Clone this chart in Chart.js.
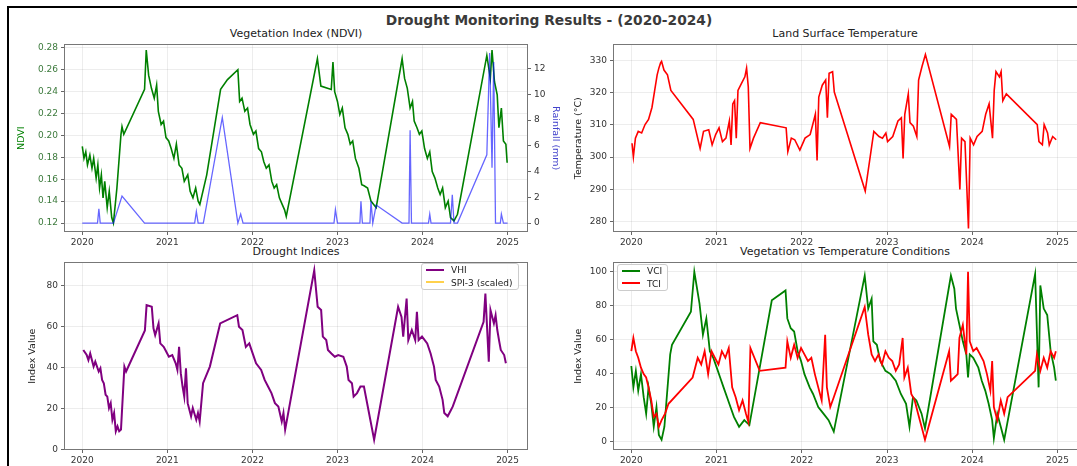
<!DOCTYPE html>
<html>
<head>
<meta charset="utf-8">
<script src="https://cdn.jsdelivr.net/npm/chart.js@4.4.1/dist/chart.umd.min.js"></script>
<style>
body { margin: 0; background: #fff; width: 1077px; height: 466px; overflow: hidden; position: relative; font-family: "DejaVu Sans", sans-serif; }
canvas { position: absolute; }
.bar { position: absolute; background: #000; }
.sup { position: absolute; left: 549px; top: 12px; transform: translateX(-50%); white-space: nowrap; font-size: 13.8px; line-height: 17px; font-weight: bold; color: #3a3a3a; }
.t { position: absolute; transform: translateX(-50%); white-space: nowrap; font-size: 11px; line-height: 13px; color: #222; }
.leg { position: absolute; border: 1px solid #ccc; border-radius: 3px; background: rgba(255,255,255,0.85); padding: 0 5px 0 4px; font-size: 9px; color: #222; }
.leg div { height: 12.5px; line-height: 12.5px; white-space: nowrap; }
.leg span { display: inline-block; width: 18px; height: 2px; margin-right: 7px; vertical-align: middle; position: relative; top: -1px; }
</style>
</head>
<body>
<div class="bar" style="left:7px;top:6px;width:1070px;height:2px"></div>
<div class="bar" style="left:7px;top:6px;width:2px;height:460px"></div>

<div class="sup">Drought Monitoring Results - (2020-2024)</div>
<div class="t" style="left:296px;top:27px">Vegetation Index (NDVI)</div>
<div class="t" style="left:845px;top:27px">Land Surface Temperature</div>
<div class="t" style="left:296px;top:245px">Drought Indices</div>
<div class="t" style="left:845px;top:245px">Vegetation vs Temperature Conditions</div>

<canvas id="cNdvi" width="572" height="216" style="left:8px;top:36px"></canvas>
<canvas id="cLst" width="520" height="216" style="left:570px;top:36px"></canvas>
<canvas id="cVhi" width="572" height="216" style="left:8px;top:254px"></canvas>
<canvas id="cVci" width="520" height="216" style="left:570px;top:254px"></canvas>

<div class="leg" style="left:421px;top:263px">
  <div><span style="background:#800080"></span>VHI</div>
  <div><span style="background:rgba(255,190,0,0.7)"></span>SPI-3 (scaled)</div>
</div>
<div class="leg" style="left:617px;top:264px">
  <div><span style="background:#008000"></span>VCI</div>
  <div><span style="background:#ff0000"></span>TCI</div>
</div>

<script>
// tick values
const yearTicks = [2020, 2021, 2022, 2023, 2024, 2025];
const ndviTicks = [0.12, 0.14, 0.16, 0.18, 0.20, 0.22, 0.24, 0.26, 0.28];
const rainTicks = [0, 2, 4, 6, 8, 10, 12];
const lstTicks = [280, 290, 300, 310, 320, 330];
const vhiTicks = [0, 20, 40, 60, 80];
const vciTicks = [0, 20, 40, 60, 80, 100];

// [decimal year, value]
const ndvi = [
  [2020.000,0.190],[2020.020,0.179],[2020.041,0.185],[2020.061,0.173],[2020.089,0.182],[2020.114,0.170],[2020.134,0.179],
  [2020.163,0.161],[2020.183,0.173],[2020.203,0.152],[2020.224,0.164],[2020.244,0.143],[2020.264,0.158],[2020.293,0.134],
  [2020.317,0.149],[2020.346,0.125],[2020.366,0.120],[2020.407,0.152],[2020.455,0.201],[2020.467,0.208],[2020.488,0.201],
  [2020.732,0.242],[2020.752,0.278],[2020.780,0.255],[2020.813,0.243],[2020.846,0.234],[2020.874,0.246],[2020.894,0.222],
  [2020.927,0.210],[2020.955,0.213],[2020.984,0.198],[2021.016,0.195],[2021.045,0.188],[2021.077,0.179],[2021.106,0.192],
  [2021.138,0.173],[2021.171,0.170],[2021.199,0.158],[2021.240,0.164],[2021.268,0.149],[2021.301,0.143],[2021.333,0.152],
  [2021.362,0.140],[2021.382,0.137],[2021.463,0.164],[2021.626,0.242],[2021.707,0.251],[2021.829,0.260],[2021.850,0.231],
  [2021.878,0.234],[2021.911,0.222],[2021.943,0.225],[2021.972,0.210],[2022.012,0.201],[2022.041,0.204],[2022.073,0.188],
  [2022.106,0.185],[2022.134,0.176],[2022.163,0.170],[2022.195,0.173],[2022.228,0.158],[2022.256,0.152],[2022.285,0.155],
  [2022.317,0.143],[2022.350,0.137],[2022.378,0.132],[2022.398,0.126],[2022.764,0.270],[2022.805,0.245],[2022.927,0.242],
  [2022.947,0.267],[2022.967,0.240],[2023.000,0.231],[2023.028,0.219],[2023.057,0.225],[2023.089,0.207],[2023.122,0.201],
  [2023.150,0.192],[2023.179,0.195],[2023.211,0.179],[2023.252,0.170],[2023.285,0.155],[2023.313,0.154],[2023.354,0.152],
  [2023.394,0.140],[2023.455,0.134],[2023.760,0.270],[2023.789,0.252],[2023.821,0.243],[2023.854,0.225],[2023.882,0.231],
  [2023.902,0.213],[2023.935,0.207],[2023.963,0.201],[2023.992,0.204],[2024.024,0.188],[2024.057,0.179],[2024.085,0.185],
  [2024.114,0.167],[2024.146,0.161],[2024.179,0.152],[2024.207,0.146],[2024.236,0.152],[2024.268,0.134],[2024.301,0.140],
  [2024.329,0.125],[2024.370,0.122],[2024.411,0.128],[2024.756,0.273],[2024.797,0.252],[2024.817,0.278],[2024.846,0.249],
  [2024.878,0.237],[2024.898,0.207],[2024.927,0.225],[2024.951,0.195],[2024.980,0.192],[2024.995,0.175]
];
const rainfall = [
  [2020.000,0],[2020.179,0],[2020.195,1.1],[2020.211,0],[2020.366,0],[2020.467,2.1],[2020.732,0],[2021.321,0],
  [2021.341,0.9],[2021.362,0],[2021.423,0],[2021.646,8.2],[2021.829,0],[2021.862,0.7],[2021.890,0],[2022.959,0],
  [2022.976,1.05],[2023.000,0],[2023.264,0],[2023.276,1.7],[2023.293,0],[2023.382,0],[2023.394,1.7],[2023.415,0],
  [2023.455,1.4],[2023.760,0],[2023.841,0],[2023.854,7.2],[2023.870,0],[2024.070,0],[2024.085,0.7],[2024.100,0],
  [2024.329,0],[2024.350,2.2],[2024.370,0],[2024.411,0],[2024.756,5.3],[2024.789,13.2],[2024.817,4.3],[2024.837,12.5],
  [2024.858,0],[2024.915,0],[2024.927,0.7],[2024.951,0],[2025.000,0]
];
const lst = [
  [2020.008,304.3],[2020.024,300.1],[2020.048,305.9],[2020.081,308.0],[2020.121,307.5],[2020.161,310.1],[2020.202,311.7],
  [2020.242,315.4],[2020.274,320.7],[2020.303,325.5],[2020.323,327.6],[2020.343,329.2],[2020.355,329.7],[2020.383,327.0],
  [2020.424,325.5],[2020.464,320.7],[2020.726,311.7],[2020.807,302.7],[2020.847,308.0],[2020.908,308.5],[2020.948,303.8],
  [2020.989,307.0],[2021.029,309.1],[2021.069,304.8],[2021.110,305.9],[2021.150,311.2],[2021.170,303.8],[2021.190,316.5],
  [2021.211,317.5],[2021.231,305.9],[2021.251,320.7],[2021.291,322.8],[2021.332,324.9],[2021.352,327.6],[2021.372,321.8],
  [2021.392,302.7],[2021.433,305.9],[2021.513,310.7],[2021.816,309.1],[2021.836,301.7],[2021.877,305.9],[2021.917,305.4],
  [2021.977,302.2],[2022.038,305.9],[2022.098,307.0],[2022.139,311.2],[2022.159,313.3],[2022.179,299.0],[2022.199,318.6],
  [2022.240,322.3],[2022.280,323.9],[2022.300,312.2],[2022.320,326.0],[2022.361,326.5],[2022.381,320.2],[2022.744,289.5],
  [2022.845,308.0],[2022.906,306.4],[2022.946,305.9],[2022.986,307.5],[2023.006,304.8],[2023.067,306.4],[2023.128,311.2],
  [2023.168,312.2],[2023.188,299.6],[2023.208,313.3],[2023.249,319.6],[2023.269,310.7],[2023.309,309.6],[2023.349,306.4],
  [2023.370,323.9],[2023.390,326.0],[2023.410,328.1],[2023.450,331.8],[2023.733,303.3],[2023.753,313.3],[2023.814,311.7],
  [2023.854,290.0],[2023.874,305.9],[2023.914,304.8],[2023.955,277.9],[2023.975,305.9],[2024.015,303.8],[2024.056,306.4],
  [2024.116,308.0],[2024.157,313.3],[2024.197,316.5],[2024.237,305.9],[2024.257,320.7],[2024.278,326.5],[2024.318,324.9],
  [2024.338,326.5],[2024.358,317.5],[2024.399,319.6],[2024.762,310.1],[2024.782,304.8],[2024.822,303.8],[2024.843,310.1],
  [2024.883,307.5],[2024.903,303.8],[2024.943,306.4],[2024.984,305.4]
];
const vhi = [
  [2020.012,48.5],[2020.052,46.0],[2020.072,43.6],[2020.093,46.8],[2020.133,40.4],[2020.153,42.8],[2020.193,38.0],
  [2020.213,39.6],[2020.233,33.9],[2020.253,32.3],[2020.274,26.7],[2020.294,25.8],[2020.314,20.2],[2020.334,22.6],
  [2020.354,14.5],[2020.374,17.8],[2020.394,8.9],[2020.414,11.3],[2020.434,8.9],[2020.455,9.7],[2020.495,40.4],
  [2020.515,38.0],[2020.736,58.0],[2020.756,70.3],[2020.817,69.5],[2020.837,59.0],[2020.857,55.7],[2020.897,61.4],
  [2020.917,51.7],[2020.957,50.0],[2020.977,48.5],[2021.018,45.2],[2021.058,46.0],[2021.098,42.0],[2021.118,38.8],
  [2021.138,50.0],[2021.158,37.2],[2021.179,30.7],[2021.199,25.8],[2021.219,39.6],[2021.239,22.6],[2021.279,16.2],
  [2021.299,20.2],[2021.340,14.5],[2021.360,17.8],[2021.380,13.7],[2021.420,32.3],[2021.500,40.4],[2021.621,61.4],
  [2021.822,65.4],[2021.842,59.8],[2021.883,58.2],[2021.923,50.0],[2021.963,51.7],[2022.003,46.8],[2022.043,42.0],
  [2022.103,38.8],[2022.144,33.9],[2022.184,30.7],[2022.224,27.5],[2022.265,22.6],[2022.305,21.0],[2022.345,13.7],
  [2022.365,17.8],[2022.385,9.7],[2022.727,87.2],[2022.767,69.5],[2022.808,67.9],[2022.828,55.0],[2022.868,53.3],
  [2022.888,48.5],[2022.928,46.8],[2022.969,45.2],[2023.009,46.0],[2023.069,45.2],[2023.109,40.4],[2023.130,33.9],
  [2023.170,32.3],[2023.190,25.8],[2023.230,27.5],[2023.270,30.7],[2023.311,30.7],[2023.431,4.8],[2023.713,69.5],
  [2023.753,64.6],[2023.773,55.0],[2023.813,73.5],[2023.833,53.3],[2023.874,58.2],[2023.914,53.3],[2023.934,67.0],
  [2023.954,53.3],[2023.994,55.0],[2024.055,51.7],[2024.095,46.8],[2024.135,40.4],[2024.155,33.9],[2024.196,30.7],
  [2024.236,24.2],[2024.256,17.8],[2024.296,16.2],[2024.336,19.4],[2024.356,21.0],[2024.718,62.2],[2024.739,75.9],
  [2024.779,42.8],[2024.799,67.9],[2024.839,61.4],[2024.859,65.4],[2024.879,58.2],[2024.899,53.3],[2024.920,48.5],
  [2024.960,46.0],[2024.980,42.0]
];
const spi3 = []; // listed in the legend, nothing drawn in the plot
const vci = [
  [2020.000,44.5],[2020.024,32.0],[2020.053,41.6],[2020.081,30.0],[2020.113,39.7],[2020.145,26.1],[2020.174,16.4],
  [2020.202,32.0],[2020.234,22.2],[2020.263,8.7],[2020.295,20.3],[2020.323,3.9],[2020.355,1.0],[2020.388,8.7],
  [2020.456,51.3],[2020.477,57.0],[2020.699,76.4],[2020.739,100.0],[2020.800,81.2],[2020.840,62.9],[2020.880,72.5],
  [2020.921,53.2],[2020.961,49.3],[2021.002,43.5],[2021.042,37.7],[2021.082,31.9],[2021.123,26.1],[2021.163,20.3],
  [2021.204,14.5],[2021.264,8.7],[2021.325,12.6],[2021.385,9.7],[2021.648,83.2],[2021.809,89.0],[2021.830,72.5],
  [2021.870,66.7],[2021.910,64.8],[2021.951,53.2],[2021.991,47.4],[2022.031,39.7],[2022.092,31.9],[2022.132,28.0],
  [2022.193,20.3],[2022.254,16.4],[2022.314,12.6],[2022.375,5.8],[2022.738,97.7],[2022.779,78.3],[2022.819,84.1],
  [2022.839,59.0],[2022.880,57.0],[2022.920,47.4],[2022.981,41.6],[2023.041,39.7],[2023.102,35.8],[2023.162,28.0],
  [2023.223,22.2],[2023.263,8.7],[2023.304,26.1],[2023.344,24.2],[2023.405,16.4],[2023.445,7.7],[2023.749,97.7],
  [2023.789,90.0],[2023.809,78.3],[2023.849,68.7],[2023.889,59.0],[2023.930,51.3],[2023.950,37.7],[2023.970,51.3],
  [2024.011,49.3],[2024.071,43.5],[2024.111,35.8],[2024.152,30.0],[2024.192,22.2],[2024.233,12.6],[2024.253,1.9],
  [2024.293,16.4],[2024.334,8.7],[2024.374,1.0],[2024.737,98.6],[2024.778,31.9],[2024.798,91.9],[2024.838,78.3],
  [2024.879,74.5],[2024.919,53.2],[2024.960,43.5],[2024.980,35.8]
];
const tci = [
  [2020.000,53.2],[2020.024,61.0],[2020.053,53.2],[2020.081,49.3],[2020.113,43.5],[2020.145,39.7],[2020.174,37.7],
  [2020.202,31.9],[2020.234,24.2],[2020.263,14.5],[2020.295,16.4],[2020.323,8.7],[2020.355,12.6],[2020.396,16.4],
  [2020.436,22.2],[2020.719,37.7],[2020.779,49.3],[2020.820,45.4],[2020.860,53.2],[2020.901,39.7],[2020.941,53.2],
  [2020.981,49.3],[2021.022,45.4],[2021.062,53.2],[2021.103,49.3],[2021.143,55.1],[2021.183,31.9],[2021.224,26.1],
  [2021.264,18.4],[2021.305,24.2],[2021.345,16.4],[2021.373,11.6],[2021.397,55.1],[2021.506,41.6],[2021.809,43.5],
  [2021.830,59.0],[2021.870,49.3],[2021.910,57.0],[2021.951,49.3],[2021.991,55.1],[2022.031,51.3],[2022.072,47.4],
  [2022.112,49.3],[2022.153,39.7],[2022.193,31.9],[2022.233,24.2],[2022.274,62.9],[2022.294,31.9],[2022.334,20.3],
  [2022.375,26.1],[2022.738,79.3],[2022.779,62.9],[2022.819,51.3],[2022.859,47.4],[2022.900,51.3],[2022.940,45.4],
  [2022.981,53.2],[2023.021,49.3],[2023.061,47.4],[2023.102,41.6],[2023.142,45.4],[2023.183,61.0],[2023.203,37.7],
  [2023.243,43.5],[2023.284,28.0],[2023.324,24.2],[2023.364,16.4],[2023.405,8.7],[2023.445,1.0],[2023.728,53.2],
  [2023.749,35.8],[2023.789,37.7],[2023.829,39.7],[2023.849,61.0],[2023.889,68.7],[2023.930,51.3],[2023.950,100.0],
  [2023.970,59.0],[2024.011,53.2],[2024.051,55.1],[2024.091,51.3],[2024.132,47.4],[2024.172,39.7],[2024.212,30.0],
  [2024.233,47.4],[2024.253,20.3],[2024.293,12.6],[2024.334,24.2],[2024.374,16.4],[2024.414,26.1],[2024.737,41.6],
  [2024.758,51.3],[2024.798,41.6],[2024.838,49.3],[2024.879,43.5],[2024.919,53.2],[2024.960,49.3],[2024.980,53.2]
];

const gridCol = 'rgba(0,0,0,0.07)';
const tickCol = '#666';
const tickFont = { family: 'DejaVu Sans', size: 9 };
const labelFont = { family: 'DejaVu Sans', size: 9.5 };

const pts = arr => arr.map(([x, y]) => ({ x, y }));

// matplotlib-like box around the axes
const frame = {
  id: 'frame',
  afterDatasetsDraw(chart) {
    const a = chart.chartArea, c = chart.ctx;
    c.save();
    c.strokeStyle = '#777';
    c.lineWidth = 1;
    c.strokeRect(Math.round(a.left) + 0.5, Math.round(a.top) + 0.5,
      Math.round(a.right - a.left) - 1, Math.round(a.bottom - a.top) - 1);
    c.restore();
  }
};

function xAxis() {
  return {
    type: 'linear', min: 2019.785, max: 2025.24,
    afterBuildTicks: s => { s.ticks = yearTicks.map(v => ({ value: v })); },
    afterFit: s => { s.height = 20; },
    grid: { color: gridCol, tickColor: tickCol, tickLength: 3 },
    border: { display: false },
    ticks: { font: tickFont, color: '#333', padding: 2, maxRotation: 0, autoSkip: false, callback: v => String(v) }
  };
}

function yAxis(opts) {
  return {
    type: 'linear', position: opts.position || 'left', min: opts.min, max: opts.max,
    afterBuildTicks: s => { s.ticks = opts.ticks.map(v => ({ value: v })); },
    afterFit: s => { s.width = opts.width; },
    grid: { color: gridCol, tickColor: tickCol, tickLength: 3, drawOnChartArea: opts.grid !== false },
    border: { display: false },
    ticks: { font: tickFont, color: opts.tickColor || '#333', padding: 3, autoSkip: false, callback: opts.fmt || (v => String(v)) },
    title: { display: true, text: opts.title, color: opts.titleColor || '#222', font: labelFont, padding: { top: opts.titlePad, bottom: 0 } }
  };
}

function line(data, color, width, yAxisID) {
  const ds = { data: pts(data), borderColor: color, borderWidth: width, pointRadius: 0, tension: 0, fill: false };
  if (yAxisID) ds.yAxisID = yAxisID;
  return ds;
}

function baseOptions(padding, scales) {
  return {
    responsive: false, animation: false, events: [],
    layout: { padding },
    plugins: { legend: { display: false }, tooltip: { enabled: false } },
    scales
  };
}

// NDVI + rainfall
new Chart(document.getElementById('cNdvi').getContext('2d'), {
  type: 'line',
  data: { datasets: [
    line(rainfall, 'rgba(0,0,255,0.6)', 1.3, 'y1'),
    line(ndvi, '#008000', 1.6, 'y')
  ] },
  options: baseOptions({ top: 7, left: 0, right: 0, bottom: 0 }, {
    x: xAxis(),
    y: yAxis({ min: 0.1118, max: 0.2831, ticks: ndviTicks, width: 56, title: 'NDVI', titleColor: '#008000',
      tickColor: '#3c7a3c', titlePad: 8.3, fmt: v => v.toFixed(2) }),
    y1: yAxis({ position: 'right', min: -0.69, max: 13.87, ticks: rainTicks, width: 52, title: 'Rainfall (mm)',
      titleColor: '#4444cc', titlePad: 19, grid: false })
  }),
  plugins: [frame]
});

// land surface temperature
new Chart(document.getElementById('cLst').getContext('2d'), {
  type: 'line',
  data: { datasets: [line(lst, '#ff0000', 1.6)] },
  options: baseOptions({ top: 7, left: 0, right: 12, bottom: 0 }, {
    x: xAxis(),
    y: yAxis({ min: 276.8, max: 334.95, ticks: lstTicks, width: 43, title: 'Temperature (°C)', titlePad: 3 })
  }),
  plugins: [frame]
});

// drought indices
new Chart(document.getElementById('cVhi').getContext('2d'), {
  type: 'line',
  data: { datasets: [
    line(vhi, '#800080', 2),
    line(spi3, 'rgba(255,190,0,0.7)', 2)
  ] },
  options: baseOptions({ top: 6, left: 0, right: 52, bottom: 0 }, {
    x: xAxis(),
    y: yAxis({ min: -0.2, max: 91.1, ticks: vhiTicks, width: 56, title: 'Index Value', titlePad: 19 })
  }),
  plugins: [frame]
});

// VCI vs TCI
new Chart(document.getElementById('cVci').getContext('2d'), {
  type: 'line',
  data: { datasets: [
    line(tci, '#ff0000', 1.8),
    line(vci, '#008000', 1.8)
  ] },
  options: baseOptions({ top: 6, left: 0, right: 12, bottom: 0 }, {
    x: xAxis(),
    y: yAxis({ min: -5, max: 105.5, ticks: vciTicks, width: 43, title: 'Index Value', titlePad: 2.5 })
  }),
  plugins: [frame]
});
</script>
</body>
</html>
